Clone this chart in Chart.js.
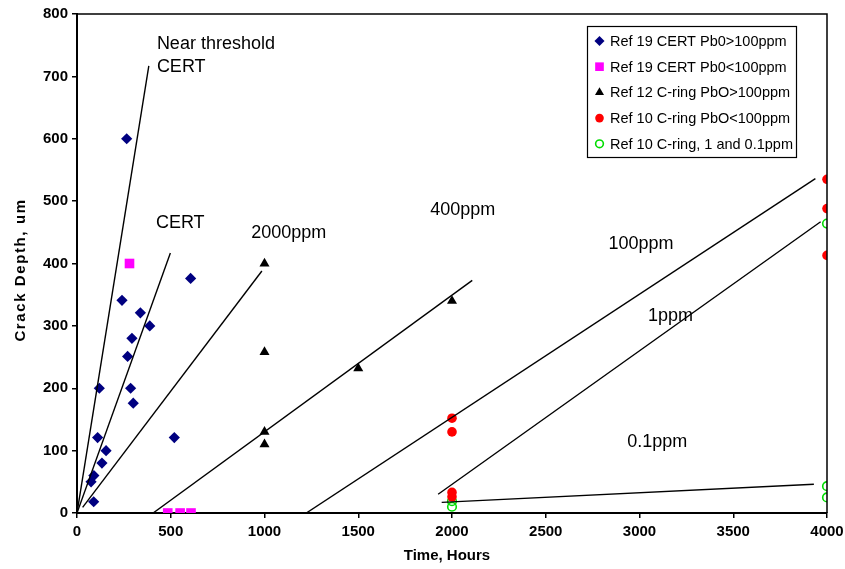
<!DOCTYPE html>
<html>
<head>
<meta charset="utf-8">
<script src="https://cdn.jsdelivr.net/npm/chart.js@4.4.1/dist/chart.umd.min.js"></script>
<style>
  html, body { margin: 0; padding: 0; background: #fff; }
  #wrap { width: 845px; height: 569px; }
</style>
</head>
<body>
<div id="wrap"><canvas id="crack" width="845" height="569"></canvas></div>
<script>
// Crack depth vs time, CERT and C-ring tests
const FONT = "'Liberation Sans', Arial, sans-serif";

const seriesNames = [
  'Ref 19 CERT Pb0>100ppm',
  'Ref 19 CERT Pb0<100ppm',
  'Ref 12 C-ring PbO>100ppm',
  'Ref 10 C-ring PbO<100ppm',
  'Ref 10 C-ring, 1 and 0.1ppm'
];

// Ref 19 CERT, PbO > 100ppm
const certHighHours = [265, 606, 240, 338, 388, 293, 270, 119, 286, 300, 110, 519, 155, 133, 90, 75, 89];
const certHighDepth = [600, 376, 341, 321, 300, 280, 251, 200, 200, 176, 121, 121, 100, 80, 60, 50, 18];

// Ref 19 CERT, PbO < 100ppm
const certLowHours = [280, 484, 550, 608];
const certLowDepth = [400, 0, 0, 0];

// Ref 12 C-ring, PbO > 100ppm
const ring12Hours = [1000, 1000, 1000, 1000, 1500, 2000];
const ring12Depth = [400, 258, 130, 110, 232, 340];

// Ref 10 C-ring, PbO < 100ppm
const ring10Hours = [2000, 2000, 2000, 2000, 4000, 4000, 4000];
const ring10Depth = [152, 130, 33, 26, 535, 488, 413];

// Ref 10 C-ring, 1 and 0.1ppm
const ring10LowHours = [2000, 2000, 4000, 4000, 4000];
const ring10LowDepth = [19, 10, 464, 43, 25];

// trend lines drawn on the chart
const trendStartHours = [0, 0, 30, 406, 1223, 1926, 1945];
const trendStartDepth = [0, 0, 9, 0, 0, 30, 17];
const trendEndHours = [383, 498, 986, 2108, 3938, 3966, 3930];
const trendEndDepth = [717, 417, 388, 373, 536, 467, 46];

// text labels placed in data units
const noteTexts = ['Near threshold', 'CERT', 'CERT', '2000ppm', '400ppm', '100ppm', '1ppm', '0.1ppm'];
const noteHours = [426, 426, 421, 929, 1884, 2834, 3045, 2935];
const noteDepth = [752, 715, 465, 449, 485, 431, 316, 113];

const xTicks = [0, 500, 1000, 1500, 2000, 2500, 3000, 3500, 4000];
const yTicks = [0, 100, 200, 300, 400, 500, 600, 700, 800];

const pts = (xs, ys) => xs.map((x, i) => ({ x: x, y: ys[i] }));

const markerStyles = [
  { pointStyle: 'rectRot', radius: 5.6, bg: '#000080', border: '#000080', bw: 0 },
  { pointStyle: 'rect', radius: 6.8, bg: '#ff00ff', border: '#ff00ff', bw: 0 },
  { pointStyle: 'triangle', radius: 5.8, bg: '#000000', border: '#000000', bw: 0 },
  { pointStyle: 'circle', radius: 4.8, bg: '#ff0000', border: '#ff0000', bw: 0 },
  { pointStyle: 'circle', radius: 4.3, bg: 'rgba(0,0,0,0)', border: '#00dd00', bw: 1.6 }
];

const pointSets = [
  pts(certHighHours, certHighDepth),
  pts(certLowHours, certLowDepth),
  pts(ring12Hours, ring12Depth),
  pts(ring10Hours, ring10Depth),
  pts(ring10LowHours, ring10LowDepth)
];

const datasets = [];
trendStartHours.forEach((h, i) => {
  datasets.push({
    label: 'trend ' + i,
    data: [{ x: h, y: trendStartDepth[i] }, { x: trendEndHours[i], y: trendEndDepth[i] }],
    showLine: true,
    borderColor: '#000',
    borderWidth: 1.4,
    pointRadius: 0,
    fill: false
  });
});
pointSets.forEach((data, i) => {
  const m = markerStyles[i];
  datasets.push({
    label: seriesNames[i],
    data: data,
    pointStyle: m.pointStyle,
    pointRadius: m.radius,
    pointBackgroundColor: m.bg,
    pointBorderColor: m.border,
    pointBorderWidth: m.bw,
    showLine: false
  });
});

const extras = {
  id: 'extras',
  afterDraw(chart) {
    const ctx = chart.ctx;
    const area = chart.chartArea;
    const xs = chart.scales.x, ys = chart.scales.y;
    ctx.save();

    // top and right frame
    ctx.strokeStyle = '#000';
    ctx.lineWidth = 1.5;
    ctx.beginPath();
    ctx.moveTo(area.left, area.top);
    ctx.lineTo(area.right, area.top);
    ctx.lineTo(area.right, area.bottom);
    ctx.stroke();

    // notes on the plot
    ctx.fillStyle = '#000';
    ctx.font = '18px ' + FONT;
    ctx.textAlign = 'left';
    ctx.textBaseline = 'middle';
    noteTexts.forEach((t, i) => {
      ctx.fillText(t, xs.getPixelForValue(noteHours[i]), ys.getPixelForValue(noteDepth[i]));
    });

    // axis titles
    ctx.font = 'bold 15px ' + FONT;
    ctx.textAlign = 'center';
    ctx.fillText('Time, Hours', 447, 556);
    ctx.save();
    ctx.translate(21, 270);
    ctx.rotate(-Math.PI / 2);
    ctx.letterSpacing = '1.6px';
    ctx.fillText('Crack Depth, um', 0, 0);
    ctx.restore();

    // legend box
    const lx = 587.5, ly = 26.5, lw = 209, lh = 131;
    ctx.fillStyle = '#fff';
    ctx.fillRect(lx, ly, lw, lh);
    ctx.strokeStyle = '#000';
    ctx.lineWidth = 1.2;
    ctx.strokeRect(lx, ly, lw, lh);
    ctx.font = '14.5px ' + FONT;
    ctx.textAlign = 'left';
    seriesNames.forEach((name, i) => {
      const y = 41 + i * 25.7;
      const m = markerStyles[i];
      ctx.fillStyle = m.bg;
      ctx.strokeStyle = m.border;
      ctx.lineWidth = m.bw;
      Chart.helpers.drawPoint(ctx, {
        pointStyle: m.pointStyle, radius: m.radius * 0.9, borderWidth: m.bw, rotation: 0
      }, 599.5, y);
      ctx.fillStyle = '#000';
      ctx.fillText(name, 610, y + 1);
    });
    ctx.restore();
  }
};

new Chart(document.getElementById('crack'), {
  type: 'scatter',
  data: { datasets: datasets },
  options: {
    responsive: false,
    animation: false,
    layout: { padding: { top: 14, right: 18, left: 0, bottom: 0 } },
    plugins: {
      legend: { display: false },
      tooltip: { enabled: false },
      title: { display: false }
    },
    scales: {
      x: {
        type: 'linear',
        min: 0,
        max: 4000,
        afterBuildTicks(scale) { scale.ticks = xTicks.map(v => ({ value: v })); },
        afterFit(scale) {
          scale.height = 56;
          scale.paddingLeft = 0;
          scale.paddingRight = 0;
        },
        ticks: {
          color: '#000',
          font: { family: FONT, size: 15, weight: 'bold' },
          padding: 5,
          maxRotation: 0,
          callback: v => String(v)
        },
        grid: { drawOnChartArea: false, drawTicks: true, tickLength: 5, color: '#000', lineWidth: 1.5 },
        border: { display: true, color: '#000', width: 2 }
      },
      y: {
        type: 'linear',
        min: 0,
        max: 800,
        afterBuildTicks(scale) { scale.ticks = yTicks.map(v => ({ value: v })); },
        afterFit(scale) {
          scale.width = 77;
          scale.paddingTop = 0;
          scale.paddingBottom = 0;
        },
        ticks: { color: '#000', font: { family: FONT, size: 15, weight: 'bold' }, padding: 4, callback: v => String(v) },
        grid: { drawOnChartArea: false, drawTicks: true, tickLength: 5, color: '#000', lineWidth: 1.5 },
        border: { display: true, color: '#000', width: 2 }
      }
    }
  },
  plugins: [extras]
});
</script>
</body>
</html>
